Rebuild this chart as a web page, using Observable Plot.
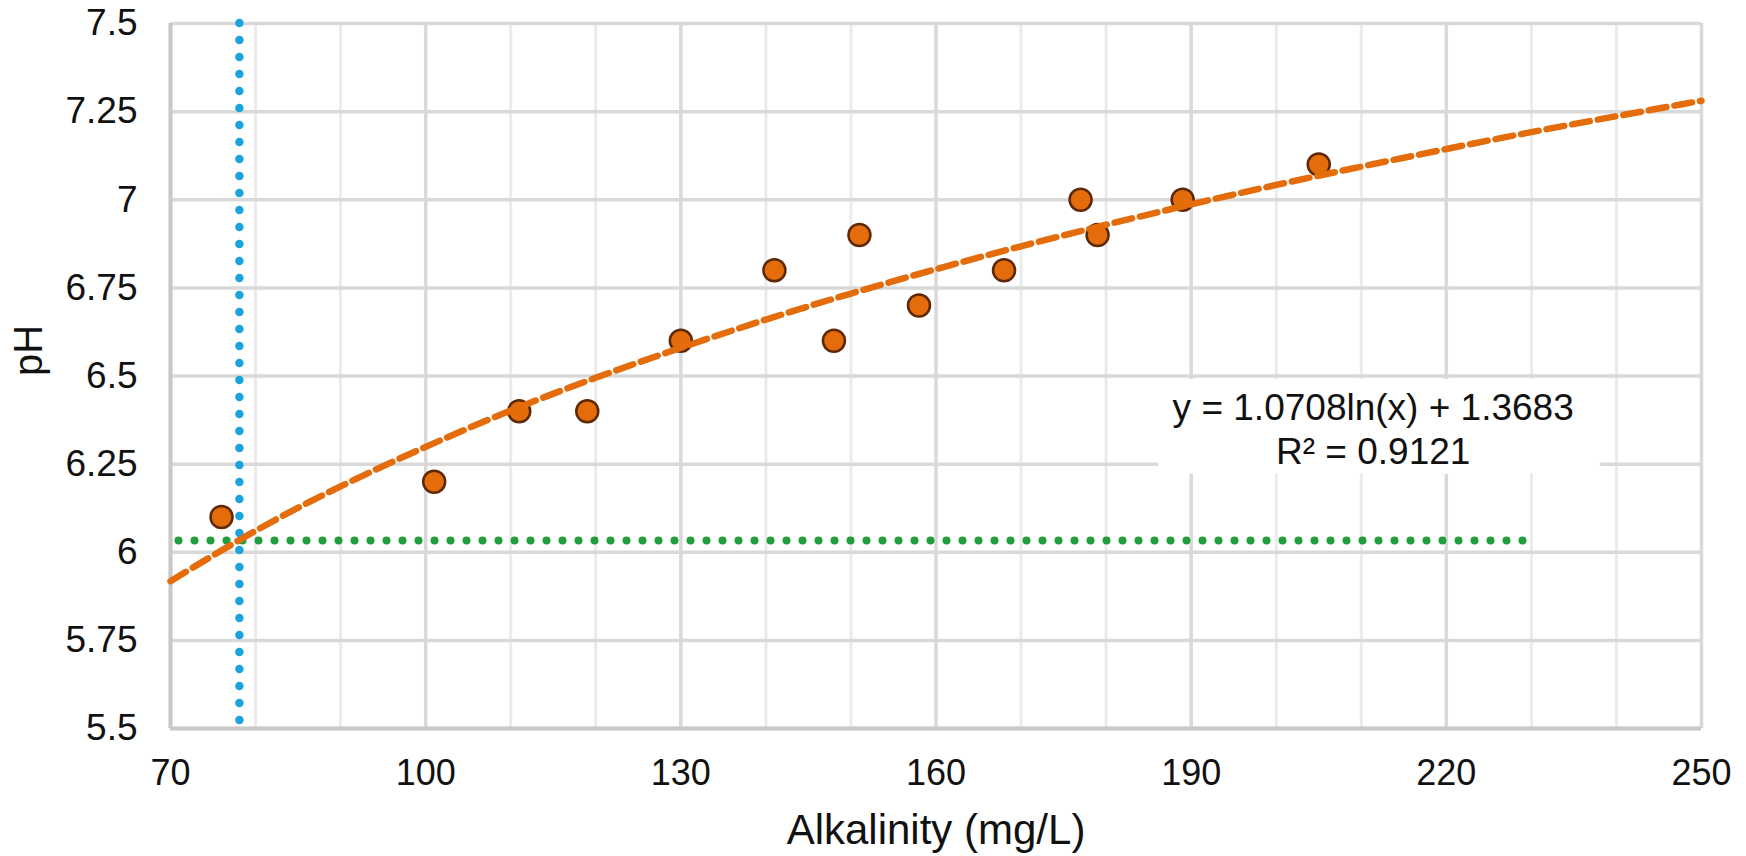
<!DOCTYPE html>
<html>
<head>
<meta charset="utf-8">
<script src="https://cdn.jsdelivr.net/npm/d3@7"></script>
<script src="https://cdn.jsdelivr.net/npm/@observablehq/plot@0.6"></script>
<style>
  html, body { margin: 0; padding: 0; background: #fff; overflow: hidden; }
  #chart svg { display: block; }
</style>
</head>
<body>
<div id="chart"></div>
<script>
// Observed samples
const alkalinity = [76, 101, 111, 119, 130, 141, 148, 151, 158, 168, 177, 179, 189, 205];
const pHValues   = [6.1, 6.2, 6.4, 6.4, 6.6, 6.8, 6.6, 6.9, 6.7, 6.8, 7.0, 6.9, 7.0, 7.1];

// Logarithmic trendline (y = 1.0708ln(x) + 1.3683)
const trendX  = [70, 80, 90, 100, 110, 120, 130, 140, 150, 160, 170, 180, 190, 200, 210, 220, 230, 240, 250];
const trendPH = [5.918, 6.061, 6.187, 6.299, 6.402, 6.495, 6.580, 6.660, 6.734, 6.803, 6.868, 6.929, 6.987, 7.042, 7.094, 7.144, 7.192, 7.237, 7.281];

// Reference lines
const blueX = [78.1];
const greenY = [6.033];
const greenSpan = [71, 230];

// Axis ticks / gridlines
const xTicks = [70, 100, 130, 160, 190, 220, 250];
const xMinor = [80, 90, 110, 120, 140, 150, 170, 180, 200, 210, 230, 240];
const yTicks = [5.5, 5.75, 6, 6.25, 6.5, 6.75, 7, 7.25, 7.5];

// Texts
const xLabel = ["Alkalinity (mg/L)"];
const yLabel = ["pH"];
const equationText = ["y = 1.0708ln(x) + 1.3683\nR² = 0.9121"];
const equationPos = {x: 211.4, y: 6.352};
const equationBox = [{x1: 186.2, x2: 238.1, y1: 6.222, y2: 6.49}];

const points = alkalinity.map((a, i) => ({x: a, y: pHValues[i]}));
const trend = trendX.map((a, i) => ({x: a, y: trendPH[i]}));

const orange = "#e46c0a";

const chart = Plot.plot({
  width: 1746,
  height: 856,
  marginLeft: 170,
  marginRight: 45,
  marginTop: 23,
  marginBottom: 128,
  x: {domain: [70, 250]},
  y: {domain: [5.5, 7.5]},
  style: {fontFamily: "'Liberation Sans', Arial, sans-serif", color: "#111", background: "#fff"},
  marks: [
    Plot.ruleX(xMinor, {stroke: "#ebebeb", strokeWidth: 3}),
    Plot.ruleX(xTicks, {stroke: "#d9d9d9", strokeWidth: 3.5}),
    Plot.ruleY(yTicks, {stroke: "#d9d9d9", strokeWidth: 3.5}),
    Plot.ruleX([70], {stroke: "#c8c8c8", strokeWidth: 4}),
    Plot.ruleY([5.5], {stroke: "#c8c8c8", strokeWidth: 4}),
    Plot.rect(equationBox, {x1: "x1", x2: "x2", y1: "y1", y2: "y2", fill: "#fff"}),
    Plot.text(equationText, {
      x: () => equationPos.x, y: () => equationPos.y,
      fontSize: 37, lineHeight: 1.17, textAnchor: "middle", lineAnchor: "middle",
      fill: "#111", stroke: "#fff", strokeWidth: 20, strokeLinejoin: "round"
    }),
    Plot.ruleY(greenY, {x1: () => greenSpan[0], x2: () => greenSpan[1], stroke: "#1e9e3e", strokeWidth: 8, strokeDasharray: "0,16", strokeLinecap: "round"}),
    Plot.ruleX(blueX, {stroke: "#1ba3de", strokeWidth: 8.5, strokeDasharray: "0,17", strokeLinecap: "round"}),
    Plot.dot(points, {x: "x", y: "y", r: 11, fill: orange, stroke: "#5c2806", strokeWidth: 2.5}),
    Plot.line(trend, {x: "x", y: "y", curve: "natural", stroke: orange, strokeWidth: 6.5, strokeDasharray: "18,8"}),
    Plot.axisX({ticks: xTicks, tickSize: 0, tickPadding: 31, fontSize: 36, label: null, tickFormat: d => String(d)}),
    Plot.axisY({ticks: yTicks, tickSize: 0, tickPadding: 33, fontSize: 37, label: null, tickFormat: d => String(d)}),
    Plot.text(xLabel, {frameAnchor: "bottom", dy: 101.6, fontSize: 42, lineAnchor: "middle", fill: "#111"}),
    Plot.text(yLabel, {frameAnchor: "left", dx: -141, rotate: -90, fontSize: 40, lineAnchor: "middle", fill: "#111"})
  ]
});
document.getElementById("chart").appendChild(chart);
</script>
</body>
</html>
